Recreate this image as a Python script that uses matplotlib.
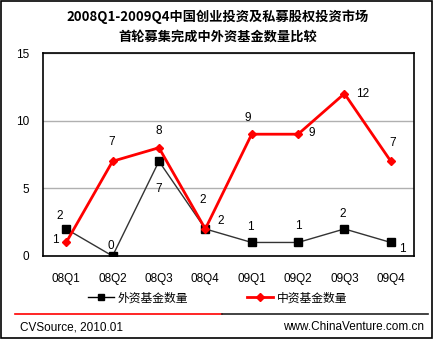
import matplotlib
matplotlib.use("Agg")
import matplotlib.pyplot as plt
from matplotlib.lines import Line2D

plt.rcParams['font.family'] = ['Liberation Sans', 'Noto Sans CJK SC', 'DejaVu Sans']

categories = ["08Q1", "08Q2", "08Q3", "08Q4", "09Q1", "09Q2", "09Q3", "09Q4"]
foreign = [2, 0, 7, 2, 1, 1, 2, 1]
domestic = [1, 7, 8, 2, 9, 9, 12, 7]
yticks = [0, 5, 10, 15]
title = "2008Q1-2009Q4中国创业投资及私募股权投资市场\n首轮募集完成中外资基金数量比较"
series_names = ["外资基金数量", "中资基金数量"]

W, H = 435, 341
fig = plt.figure(figsize=(W / 100, H / 100), dpi=100)

def fx(px):
    return px / W

def fy(py):
    return 1 - py / H

ax = fig.add_axes([fx(43), fy(256), fx(414) - fx(43), fy(53) - fy(256)])
x = list(range(len(categories)))

ax.plot(x, foreign, color="#333333", lw=1.0, marker="s", ms=5.5,
        mfc="black", mec="black", zorder=3)
ax.plot(x, domestic, color="#ff0000", lw=2.0, marker="D", ms=4,
        mfc="#ff0000", mec="#ff0000", zorder=4)

ax.set_xlim(-0.5, len(categories) - 0.5)
ax.set_ylim(0, 15)
ax.set_yticks(yticks)
ax.set_xticks(x)
ax.set_xticklabels(categories)
ax.tick_params(length=0, labelsize=8.5, pad=12)
ax.tick_params(axis='y', pad=10)
ax.yaxis.grid(True, color="#b0b0b0", lw=1)
ax.set_axisbelow(True)
for s in ax.spines.values():
    s.set_color("black")
    s.set_linewidth(1.2)

fs = 8.5
foreign_off = [(-5, 9), (-1.5, 7), (0, -20), (11, 6), (-1, 11), (0, 12), (-1, 11), (8, -5)]
domestic_off = [(-8, 2), (-1, 14), (0, 12), (-2, 21), (-3, 12), (10, 1), (13, 0), (1.5, 13)]
for i, v in enumerate(foreign):
    ax.annotate(str(v), (i, v), xytext=foreign_off[i], textcoords="offset points",
                ha="center", va="center", fontsize=fs)
for i, v in enumerate(domestic):
    ax.annotate(str(v), (i, v), xytext=domestic_off[i], textcoords="offset points",
                ha="center", va="center", fontsize=fs)

fig.text(0.5, fy(27), title, ha="center", va="center", fontsize=9.5,
         fontweight="bold", linespacing=1.5,
         family=['Noto Sans CJK SC', 'DejaVu Sans'])

# legend
h1 = Line2D([], [], color="black", lw=1.0, marker="s", ms=5, mfc="black")
h2 = Line2D([], [], color="#ff0000", lw=2.0, marker="D", ms=4, mfc="#ff0000")
fig.legend([h1, h2], series_names, loc="center", bbox_to_anchor=(0.5, fy(298)),
           ncol=2, frameon=False, columnspacing=5, handlelength=2.2,
           handletextpad=0.3, prop={'family': ['Noto Sans CJK SC', 'DejaVu Sans'], 'size': 8.5})

# footer line
fig.add_artist(Line2D([fx(15), fx(222)], [fy(314), fy(314)], color="#ff0000", lw=1.2))
fig.add_artist(Line2D([fx(222), fx(428)], [fy(314), fy(314)], color="#222222", lw=1.2))
fig.text(fx(20), fy(327), "CVSource, 2010.01", ha="left", va="center", fontsize=8.5)
fig.text(fx(424), fy(327), "www.ChinaVenture.com.cn", ha="right", va="center", fontsize=8.5)

# outer border
fig.add_artist(plt.Rectangle((fx(1), fy(338)), fx(432) - fx(1), fy(1) - fy(338),
                             fill=False, ec="black", lw=1.2, transform=fig.transFigure))

fig.savefig("out.png", dpi=100)
